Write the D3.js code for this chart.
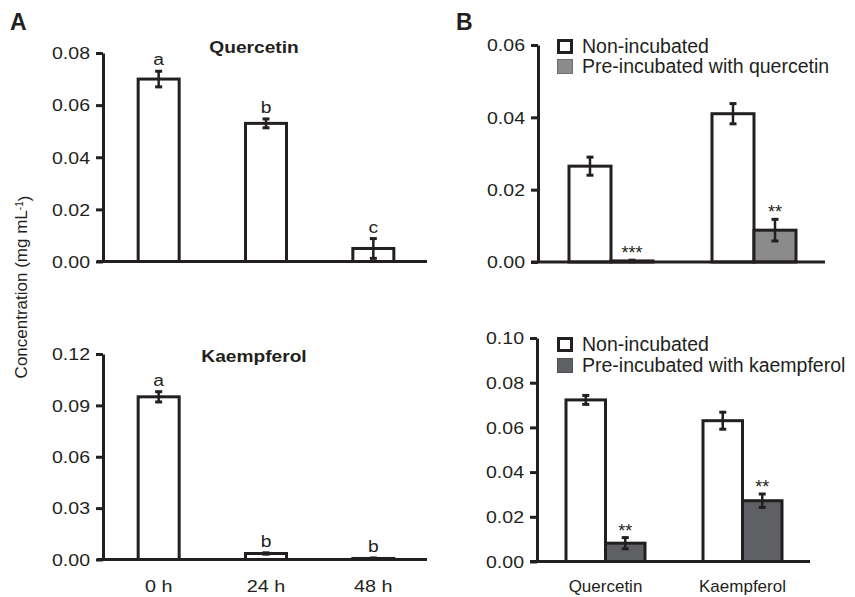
<!DOCTYPE html>
<html>
<head>
    <meta charset="utf-8">
    <title></title>
    <style>
        body { margin: 0; background: #fff; }
        text { font-family: "Liberation Sans", Arial, sans-serif; fill: #231f20; }
        .axis path, .axis line { stroke: #231f20; stroke-width: 3px; }
    </style>
</head>
<body>
    <script src="https://cdn.jsdelivr.net/npm/d3@7"></script>
    <script>
        // panel A: time course
        var timeLabels = ["0 h", "24 h", "48 h"];
        var quercetinMeans = [0.070, 0.053, 0.005];
        var quercetinErr = [0.003, 0.0017, 0.0038];
        var quercetinLetters = ["a", "b", "c"];
        var kaempferolMeans = [0.095, 0.0035, 0.0006];
        var kaempferolErr = [0.003, 0.0004, 0.0003];
        var kaempferolLetters = ["a", "b", "b"];

        // panel B: pre-incubation
        var compounds = ["Quercetin", "Kaempferol"];
        var qNonMeans = [0.0265, 0.041];
        var qNonErr = [0.0025, 0.0028];
        var qPreMeans = [0.0003, 0.0088];
        var qPreErr = [0.0002, 0.003];
        var qPreStars = ["***", "**"];
        var kNonMeans = [0.0723, 0.063];
        var kNonErr = [0.002, 0.0038];
        var kPreMeans = [0.0082, 0.0272];
        var kPreErr = [0.0025, 0.003];
        var kPreStars = ["**", "**"];

        var ink = "#231f20";
        var width = 855, height = 597;

        var svg = d3.select("body").append("svg")
            .attr("width", width)
            .attr("height", height);

        // widen text horizontally, the figure's lettering is stretched
        function stretch(sel, k) {
            sel.each(function() {
                var w = this.getComputedTextLength();
                d3.select(this).attr("textLength", w * k).attr("lengthAdjust", "spacingAndGlyphs");
            });
        }

        function yAxis(g, y, ticks, x0) {
            var ax = g.append("g")
                .attr("class", "axis")
                .attr("transform", "translate(" + x0 + ",0)")
                .call(d3.axisLeft(y).tickValues(ticks).tickSize(7).tickSizeOuter(0).tickPadding(6)
                    .tickFormat(d3.format(".2f")));
            ax.selectAll("text")
                .attr("fill", ink)
                .style("font-size", "16px")
                .attr("dy", "0.36em");
            ax.selectAll(".tick text").call(stretch, 1.22);
            return ax;
        }

        function errorBars(g, xs, means, errs, y) {
            var eb = g.append("g").attr("stroke", ink);
            means.forEach(function(m, i) {
                var lo = Math.max(m - errs[i], 0);
                eb.append("line")
                    .attr("x1", xs[i]).attr("x2", xs[i])
                    .attr("y1", y(m + errs[i])).attr("y2", y(lo))
                    .attr("stroke-width", 2.5);
                [m + errs[i], lo].forEach(function(v) {
                    eb.append("line")
                        .attr("x1", xs[i] - 3.5).attr("x2", xs[i] + 3.5)
                        .attr("y1", y(v)).attr("y2", y(v))
                        .attr("stroke-width", 3);
                });
            });
        }

        // ---- panel A ----
        var xA = d3.scalePoint().domain(timeLabels).range([105, 427]).padding(0.5);
        var barWA = 41;

        function timePanel(top, bottom, ymax, ticks, title, titleY, means, errs, letters, showX) {
            var y = d3.scaleLinear().domain([0, ymax]).range([bottom, top]);
            var g = svg.append("g");
            yAxis(g, y, ticks, 103);
            g.selectAll("rect.bar")
                .data(means)
                .enter().append("rect")
                .attr("class", "bar")
                .attr("x", function(d, i) { return xA(timeLabels[i]) - barWA / 2; })
                .attr("width", barWA)
                .attr("y", function(d) { return y(d); })
                .attr("height", function(d) { return y(0) - y(d); })
                .attr("fill", "#fff")
                .attr("stroke", ink)
                .attr("stroke-width", 3);
            g.append("line")
                .attr("x1", 97).attr("x2", 427)
                .attr("y1", y(0)).attr("y2", y(0))
                .attr("stroke", ink).attr("stroke-width", 3);
            errorBars(g, timeLabels.map(function(t) { return xA(t); }), means, errs, y);
            g.selectAll("text.letter")
                .data(letters)
                .enter().append("text")
                .attr("class", "letter")
                .attr("x", function(d, i) { return xA(timeLabels[i]); })
                .attr("y", function(d, i) { return y(means[i] + errs[i]) - 6; })
                .attr("text-anchor", "middle")
                .style("font-size", "16px")
                .text(function(d) { return d; })
                .call(stretch, 1.2);
            g.append("text")
                .attr("x", 254).attr("y", titleY)
                .attr("text-anchor", "middle")
                .style("font-size", "16.5px")
                .style("font-weight", "bold")
                .text(title)
                .call(stretch, 1.16);
            if (showX) {
                g.selectAll("text.xl")
                    .data(timeLabels)
                    .enter().append("text")
                    .attr("class", "xl")
                    .attr("x", function(d) { return xA(d); })
                    .attr("y", 592)
                    .attr("text-anchor", "middle")
                    .style("font-size", "16.5px")
                    .text(function(d) { return d; })
                    .call(stretch, 1.2);
            }
        }

        timePanel(53, 261.5, 0.08, [0, 0.02, 0.04, 0.06, 0.08], "Quercetin", 53,
            quercetinMeans, quercetinErr, quercetinLetters, false);
        timePanel(354, 559.5, 0.12, [0, 0.03, 0.06, 0.09, 0.12], "Kaempferol", 362,
            kaempferolMeans, kaempferolErr, kaempferolLetters, true);

        // ---- panel B ----
        function prePanel(opt) {
            var y = d3.scaleLinear().domain([0, opt.ymax]).range([opt.bottom, opt.top]);
            var x = d3.scalePoint().domain(compounds).range(opt.xRange).padding(0.5);
            var g = svg.append("g");
            yAxis(g, y, opt.ticks, opt.axisX);
            var bw = opt.barW;
            var series = [
                { means: opt.nonMeans, errs: opt.nonErr, fill: "#fff", off: -bw / 2 },
                { means: opt.preMeans, errs: opt.preErr, fill: opt.preFill, off: bw / 2 }
            ];
            series.forEach(function(s) {
                g.selectAll(null)
                    .data(s.means)
                    .enter().append("rect")
                    .attr("x", function(d, i) { return x(compounds[i]) + s.off - bw / 2; })
                    .attr("width", bw)
                    .attr("y", function(d) { return y(d); })
                    .attr("height", function(d) { return y(0) - y(d); })
                    .attr("fill", s.fill)
                    .attr("stroke", ink)
                    .attr("stroke-width", 3);
            });
            g.append("line")
                .attr("x1", opt.axisX - 7).attr("x2", opt.axisEnd)
                .attr("y1", y(0)).attr("y2", y(0))
                .attr("stroke", ink).attr("stroke-width", 3);
            series.forEach(function(s) {
                errorBars(g, compounds.map(function(c) { return x(c) + s.off; }), s.means, s.errs, y);
            });
            g.selectAll(null)
                .data(opt.stars)
                .enter().append("text")
                .attr("x", function(d, i) { return x(compounds[i]) + bw / 2; })
                .attr("y", function(d, i) { return y(opt.preMeans[i] + opt.preErr[i]) - 1; })
                .attr("text-anchor", "middle")
                .style("font-size", "18px")
                .text(function(d) { return d; });
            if (opt.showX) {
                g.selectAll(null)
                    .data(compounds)
                    .enter().append("text")
                    .attr("x", function(d) { return x(d); })
                    .attr("y", 592)
                    .attr("text-anchor", "middle")
                    .style("font-size", "17px")
                    .text(function(d) { return d; });
            }
            // legend
            var lg = g.append("g").attr("transform", "translate(557," + opt.legendY + ")");
            lg.append("rect")
                .attr("x", 1.5).attr("y", 1.5).attr("width", 13).attr("height", 12)
                .attr("fill", "#fff").attr("stroke", ink).attr("stroke-width", 3);
            lg.append("rect")
                .attr("x", 0.5).attr("y", opt.legendGap + 0.5).attr("width", 15).attr("height", 14)
                .attr("fill", opt.preFill).attr("stroke", opt.preEdge).attr("stroke-width", 1);
            lg.append("text").attr("x", 25).attr("y", 13.5)
                .style("font-size", "19.5px").text("Non-incubated");
            lg.append("text").attr("x", 25).attr("y", 13.5 + opt.legendGap)
                .style("font-size", "19.5px").text(opt.preLabel);
        }

        prePanel({
            top: 45, bottom: 262, ymax: 0.06, ticks: [0, 0.02, 0.04, 0.06],
            axisX: 538, axisEnd: 825, xRange: [539.5, 825.5], barW: 42,
            nonMeans: qNonMeans, nonErr: qNonErr, preMeans: qPreMeans, preErr: qPreErr,
            stars: qPreStars, preFill: "#8b8b8b", preEdge: "#6f6f6f",
            legendY: 39, legendGap: 20, preLabel: "Pre-incubated with quercetin", showX: false
        });
        prePanel({
            top: 338, bottom: 561.5, ymax: 0.10, ticks: [0, 0.02, 0.04, 0.06, 0.08, 0.10],
            axisX: 537, axisEnd: 810, xRange: [537, 811], barW: 39.5,
            nonMeans: kNonMeans, nonErr: kNonErr, preMeans: kPreMeans, preErr: kPreErr,
            stars: kPreStars, preFill: "#5f6064", preEdge: "#4f5054",
            legendY: 337, legendGap: 21, preLabel: "Pre-incubated with kaempferol", showX: true
        });

        // panel letters and shared y label
        svg.append("text").attr("x", 10).attr("y", 30)
            .style("font-size", "23px").style("font-weight", "bold").text("A");
        svg.append("text").attr("x", 456).attr("y", 30)
            .style("font-size", "23px").style("font-weight", "bold").text("B");

        var yl = svg.append("text")
            .attr("transform", "translate(27,287) rotate(-90)")
            .attr("text-anchor", "middle")
            .style("font-size", "17px");
        yl.append("tspan").text("Concentration (mg mL");
        yl.append("tspan").attr("dy", "-0.45em").style("font-size", "10px").text("-1");
        yl.append("tspan").attr("dy", "0.45em").text(")");
    </script>
</body>
</html>
